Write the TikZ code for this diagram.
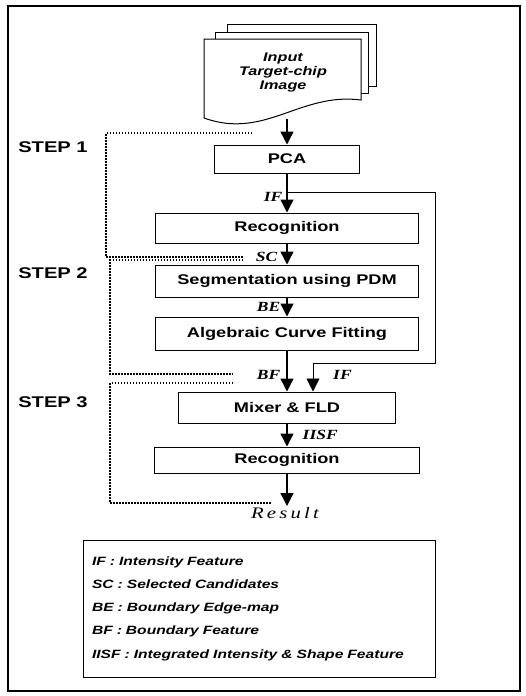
\documentclass[tikz,border=0pt]{standalone}
\usepackage{fontspec}
\usepackage{tikz}
\usetikzlibrary{arrows.meta, positioning, calc}
\newfontfamily\boxfont[FakeStretch=1.3]{Liberation Sans}
\newfontfamily\labfont[FakeStretch=1.25]{Liberation Serif}
\newfontfamily\resfont[FakeStretch=1.3,LetterSpace=20]{Liberation Serif}

\tikzset{
  procbox/.style={draw, line width=1pt, inner sep=0pt, font=\boxfont\bfseries\fontsize{14}{16}\selectfont},
  flow/.style={line width=1.4pt, -{Triangle[length=13pt,width=13pt]}},
  stepline/.style={line width=1.6pt, dash pattern=on 1.5pt off 1.5pt},
  steplabel/.style={font=\boxfont\bfseries\fontsize{15.5}{17}\selectfont},
  flowlabel/.style={font=\labfont\bfseries\itshape\fontsize{14}{16}\selectfont, inner sep=0pt},
}

\begin{document}
\begin{tikzpicture}[x=1pt, y=-1pt]
  \useasboundingbox (0,0) rectangle (525,696);
  \draw[line width=1.2pt] (8,6) rectangle (520,691);

  % input image stack
  \draw[line width=1pt] (227,32) |- (376,24) -- (376,86) -- (368,86);
  \draw[line width=1pt] (215,39) |- (368,32) -- (368,93) -- (361,93);
  \draw[line width=1pt, fill=white] (204,39) -- (361,39) -- (361,100)
    .. controls (300,92) and (265,140) .. (204,118) -- cycle;
  \node[font=\boxfont\bfseries\itshape\fontsize{12.5}{14}\selectfont, align=center] (input) at (283,72) {Input\\Target-chip\\Image};
  \coordinate (inputend) at (287,119);

  % process boxes
  \node[procbox, minimum width=145pt, minimum height=28pt] (pca) at (287,159) {PCA};
  \node[procbox, minimum width=263pt, minimum height=30pt] (rec1) at (287,228) {Recognition};
  \node[procbox, minimum width=263pt, minimum height=32pt] (seg) at (287,281) {Segmentation using PDM};
  \node[procbox, minimum width=263pt, minimum height=33pt] (acf) at (287,333.5) {Algebraic Curve Fitting};
  \node[procbox, minimum width=217pt, minimum height=31pt] (mix) at (287,407.5) {Mixer \& FLD};
  \node[procbox, minimum width=265pt, minimum height=26pt] (rec2) at (287,460) {Recognition};
  \node[font=\resfont\itshape\fontsize{16}{18}\selectfont, inner sep=1pt, anchor=north] (result) at (285,506) {Result};

  % main flow
  \draw[flow] (inputend) -- (pca.north);
  \draw[flow] (pca) -- node[flowlabel, pos=0.6, left=4pt] {IF} (rec1);
  \draw[flow] (rec1) -- node[flowlabel, pos=0.64, left=9pt] {SC} (seg);
  \draw[flow] (seg) -- node[flowlabel, pos=0.5, left=6pt] {BE} (acf);
  \draw[flow] (acf) -- node[flowlabel, pos=0.6, left=6pt] {BF} (mix);
  \draw[flow] (mix) -- node[flowlabel, pos=0.5, right=15pt] {IISF} (rec2);
  \draw[flow] (rec2.south) -- (rec2.south |- result.north);

  % intensity feature bypass
  \coordinate (split) at (287,192);
  \draw[flow, line width=0.8pt] (split) -| (435,363) -| ($(mix.north)+(26,0)$);
  \node[flowlabel, anchor=west] (iflab) at (333,375) {IF};

  % steps
  \draw[stepline] (252,133) -| (106,257) -- (243,257);
  \draw[stepline] (243,260) -| (110,374) -- (233,374);
  \draw[stepline] (233,383) -| (110,503) -- (272,503);
  \node[steplabel] (step1) at (53,147) {STEP 1};
  \node[steplabel] (step2) at (53,273) {STEP 2};
  \node[steplabel] (step3) at (53,402) {STEP 3};

  % legend
  \node[draw, line width=1pt, minimum width=352pt, minimum height=137pt, text width=334pt,
        inner xsep=9pt, align=left, font=\boxfont\bfseries\itshape\fontsize{12}{23.3}\selectfont]
    (legend) at (259,608.5) {IF : Intensity Feature\\SC : Selected Candidates\\BE : Boundary Edge-map\\BF : Boundary Feature\\IISF : Integrated Intensity \& Shape Feature};
\end{tikzpicture}
\end{document}
